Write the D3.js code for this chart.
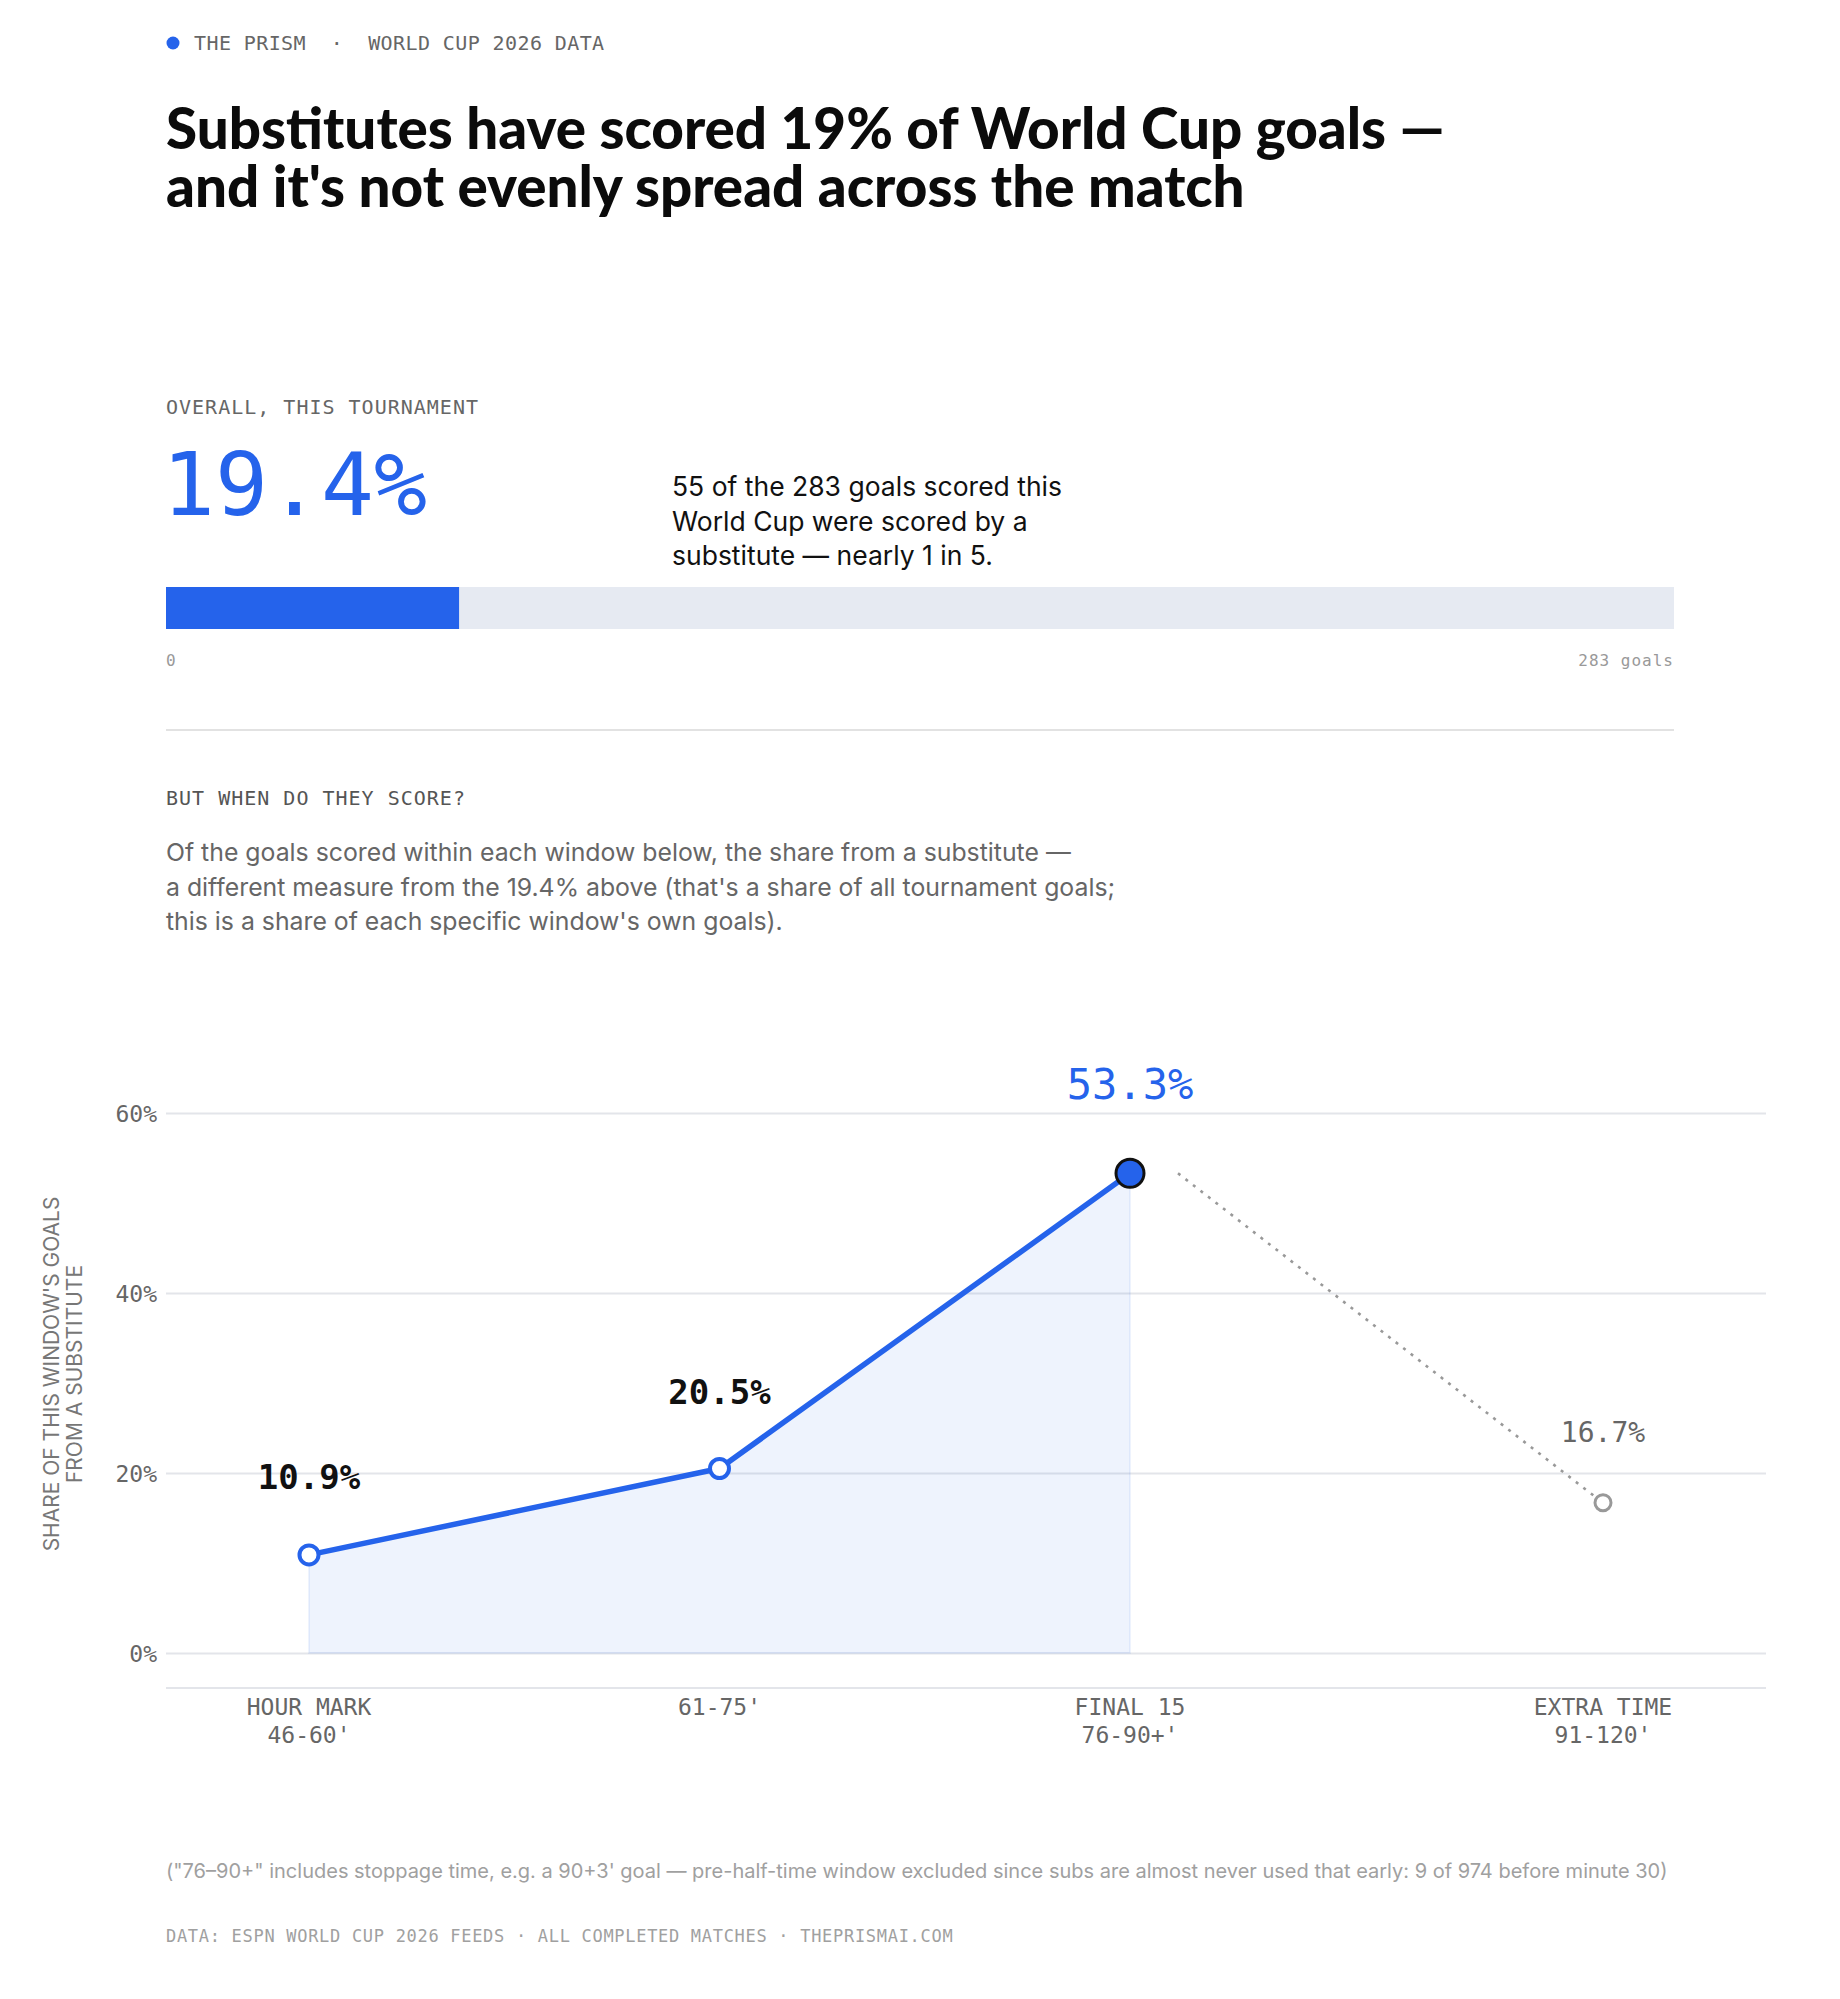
<!DOCTYPE html>
<html>
<head>
<meta charset="utf-8">
<script src="https://cdn.jsdelivr.net/npm/d3@7"></script>
<style>
  body { margin: 0; background: #fff; }
  svg { display: block; }
</style>
</head>
<body>
<div id="chart-area"></div>
<script>
// data
var windowNames = ["HOUR MARK", "61-75'", "FINAL 15", "EXTRA TIME"];
var windowRanges = ["46-60'", "", "76-90+'", "91-120'"];
var subShare = [10.9, 20.5, 53.3, 16.7];
var yTicks = [0, 20, 40, 60];
var subGoals = 55;
var totalGoals = 283;
var overallPct = 19.4;

var W = 1840, H = 1999;
var left = 166, right = 1766;
var mono = "'DejaVu Sans Mono', 'Liberation Mono', monospace";
var sans = "Inter, 'Noto Sans', sans-serif";
var blue = "#2563eb";

var svg = d3.select("#chart-area")
	.append("svg")
	.attr("width", W)
	.attr("height", H);

svg.append("rect").attr("width", W).attr("height", H).attr("fill", "#fff");

// header
svg.append("circle").attr("cx", 173).attr("cy", 43).attr("r", 6.5).attr("fill", blue);
svg.append("text")
	.attr("x", 194).attr("y", 50)
	.attr("font-family", mono).attr("font-size", "20px")
	.attr("letter-spacing", "0.4px")
	.attr("fill", "#666")
	.style("white-space", "pre")
	.text("THE PRISM  ·  WORLD CUP 2026 DATA");

// title, one text block with two lines
var titleLines = ["Substitutes have scored 19% of World Cup goals —", "and it's not evenly spread across the match"];
var title = svg.append("text")
	.attr("font-family", "Lato, 'Noto Sans', sans-serif")
	.attr("font-weight", 900)
	.attr("font-size", "50px")
	.attr("fill", "#0b0b0b");
titleLines.forEach(function(t, i) {
	title.append("tspan")
		.attr("x", left).attr("y", 149 + i * 58)
		.text(t);
});
var first = title.select("tspan").node().getComputedTextLength();
title.attr("font-size", (50 * 1279 / first) + "px");

// overall section
svg.append("text")
	.attr("x", left).attr("y", 414)
	.attr("font-family", mono).attr("font-size", "20px")
	.attr("letter-spacing", "1px").attr("fill", "#666")
	.text("OVERALL, THIS TOURNAMENT");

svg.append("text")
	.attr("x", left - 4).attr("y", 515)
	.attr("font-family", mono).attr("font-size", "88px")
	.attr("fill", blue)
	.text(d3.format(".1f")(overallPct) + "%");

var desc = ["55 of the 283 goals scored this", "World Cup were scored by a", "substitute — nearly 1 in 5."];
desc.forEach(function(t, i) {
	svg.append("text")
		.attr("x", 672).attr("y", 496 + i * 34.5)
		.attr("font-family", sans).attr("font-size", "26.5px")
		.attr("fill", "#111")
		.text(t);
});

var xBar = d3.scaleLinear().domain([0, totalGoals]).range([left, 1674]);
svg.append("rect")
	.attr("x", xBar(0)).attr("y", 587)
	.attr("width", xBar(totalGoals) - xBar(0)).attr("height", 42)
	.attr("fill", "#e6eaf2");
svg.append("rect")
	.attr("x", xBar(0)).attr("y", 587)
	.attr("width", xBar(subGoals) - xBar(0)).attr("height", 42)
	.attr("fill", blue);
svg.append("text")
	.attr("x", xBar(0)).attr("y", 666)
	.attr("font-family", mono).attr("font-size", "16px")
	.attr("fill", "#999")
	.text("0");
svg.append("text")
	.attr("x", xBar(totalGoals)).attr("y", 666)
	.attr("text-anchor", "end")
	.attr("font-family", mono).attr("font-size", "16px")
	.attr("letter-spacing", "1px")
	.attr("fill", "#999")
	.text(totalGoals + " goals");

svg.append("line")
	.attr("x1", left).attr("x2", 1674)
	.attr("y1", 730).attr("y2", 730)
	.attr("stroke", "#e2e2e2").attr("stroke-width", 2);

// second section
svg.append("text")
	.attr("x", left).attr("y", 805)
	.attr("font-family", mono).attr("font-size", "20px")
	.attr("letter-spacing", "1px").attr("fill", "#555")
	.text("BUT WHEN DO THEY SCORE?");

var para = ["Of the goals scored within each window below, the share from a substitute —",
	"a different measure from the 19.4% above (that's a share of all tournament goals;",
	"this is a share of each specific window's own goals)."];
para.forEach(function(t, i) {
	svg.append("text")
		.attr("x", left).attr("y", 861 + i * 34.5)
		.attr("font-family", sans).attr("font-size", "24.8px")
		.attr("fill", "#666")
		.text(t);
});

// chart
var y = d3.scaleLinear().domain([0, 60]).range([1653, 1113]);
var xMain = d3.scalePoint().domain(windowNames.slice(0, 3)).range([309, 1130]);
var xPos = function(i) { return i < 3 ? xMain(windowNames[i]) : 1603; };

var yAxis = d3.axisLeft(y).tickValues(yTicks).tickSize(-(right - left)).tickFormat(function(d) { return d + "%"; });
var yAxisGroup = svg.append("g")
	.attr("class", "y axis")
	.attr("transform", "translate(" + left + ",0)")
	.call(yAxis);
yAxisGroup.select(".domain").remove();
yAxisGroup.selectAll("line").attr("stroke", "#e3e5ea").attr("stroke-width", 2);
yAxisGroup.selectAll("text")
	.attr("x", -9).attr("dy", "0.35em")
	.attr("font-family", mono).attr("font-size", "23px")
	.attr("fill", "#666");

// baseline of x axis
svg.append("line")
	.attr("x1", left).attr("x2", right)
	.attr("y1", 1688).attr("y2", 1688)
	.attr("stroke", "#e3e5ea").attr("stroke-width", 2);

var yTitle = svg.append("text")
	.attr("transform", "translate(52,1374) rotate(-90)")
	.attr("text-anchor", "middle")
	.attr("font-family", sans).attr("font-size", "21px")
	.attr("fill", "#777");
yTitle.append("tspan").attr("x", 0).attr("dy", "0.35em").text("SHARE OF THIS WINDOW'S GOALS");
yTitle.append("tspan").attr("x", 0).attr("dy", "1.1em").text("FROM A SUBSTITUTE");

var mainData = subShare.slice(0, 3).map(function(v, i) { return {i: i, v: v}; });

var area = d3.area()
	.x(function(d) { return xPos(d.i); })
	.y0(y(0))
	.y1(function(d) { return y(d.v); });
svg.append("path")
	.datum(mainData)
	.attr("d", area)
	.attr("fill", "rgba(37,99,235,0.08)")
	.attr("stroke", "rgba(37,99,235,0.08)")
	.attr("stroke-width", 2);

var line = d3.line()
	.x(function(d) { return xPos(d.i); })
	.y(function(d) { return y(d.v); });
svg.append("path")
	.datum(mainData)
	.attr("d", line)
	.attr("fill", "none")
	.attr("stroke", blue)
	.attr("stroke-width", 5.5)
	.attr("stroke-linejoin", "round");

// dotted link to extra time
svg.append("line")
	.attr("x1", xPos(2) + 48).attr("y1", y(subShare[2]))
	.attr("x2", xPos(3) - 8).attr("y2", y(subShare[3]) - 6)
	.attr("stroke", "#999")
	.attr("stroke-width", 2.6)
	.attr("stroke-dasharray", "3,6.5");

// markers
svg.selectAll(".pt")
	.data(mainData.slice(0, 2))
	.enter().append("circle")
	.attr("class", "pt")
	.attr("cx", function(d) { return xPos(d.i); })
	.attr("cy", function(d) { return y(d.v); })
	.attr("r", 9.5)
	.attr("fill", "#fff")
	.attr("stroke", blue)
	.attr("stroke-width", 4);

svg.append("circle")
	.attr("cx", xPos(2)).attr("cy", y(subShare[2]))
	.attr("r", 14)
	.attr("fill", blue)
	.attr("stroke", "#111")
	.attr("stroke-width", 3);

svg.append("circle")
	.attr("cx", xPos(3)).attr("cy", y(subShare[3]))
	.attr("r", 8)
	.attr("fill", "#fff")
	.attr("stroke", "#999")
	.attr("stroke-width", 3);

// value labels
var labelStyle = [
	{size: 34, weight: 700, fill: "#111", off: 66},
	{size: 34, weight: 700, fill: "#111", off: 65},
	{size: 42, weight: 400, fill: blue, off: 74},
	{size: 28, weight: 400, fill: "#666", off: 61}
];
subShare.forEach(function(v, i) {
	var s = labelStyle[i];
	svg.append("text")
		.attr("x", xPos(i)).attr("y", y(v) - s.off)
		.attr("text-anchor", "middle")
		.attr("font-family", mono)
		.attr("font-size", s.size + "px")
		.attr("font-weight", s.weight)
		.attr("fill", s.fill)
		.text(d3.format(".1f")(v) + "%");
});

// x labels
windowNames.forEach(function(n, i) {
	var t = svg.append("text")
		.attr("x", xPos(i)).attr("y", 1715)
		.attr("text-anchor", "middle")
		.attr("font-family", mono).attr("font-size", "23px")
		.attr("fill", "#666");
	t.append("tspan").attr("x", xPos(i)).text(n);
	if (windowRanges[i]) t.append("tspan").attr("x", xPos(i)).attr("dy", 28).text(windowRanges[i]);
});

// notes
svg.append("text")
	.attr("x", left).attr("y", 1878)
	.attr("font-family", sans).attr("font-size", "20px")
	.attr("fill", "#a0a0a0")
	.text("(\"76–90+\" includes stoppage time, e.g. a 90+3' goal — pre-half-time window excluded since subs are almost never used that early: 9 of 974 before minute 30)");

svg.append("text")
	.attr("x", left).attr("y", 1942)
	.attr("font-family", mono).attr("font-size", "17px")
	.attr("letter-spacing", "0.7px")
	.attr("fill", "#a0a0a0")
	.text("DATA: ESPN WORLD CUP 2026 FEEDS · ALL COMPLETED MATCHES · THEPRISMAI.COM");
</script>
</body>
</html>
